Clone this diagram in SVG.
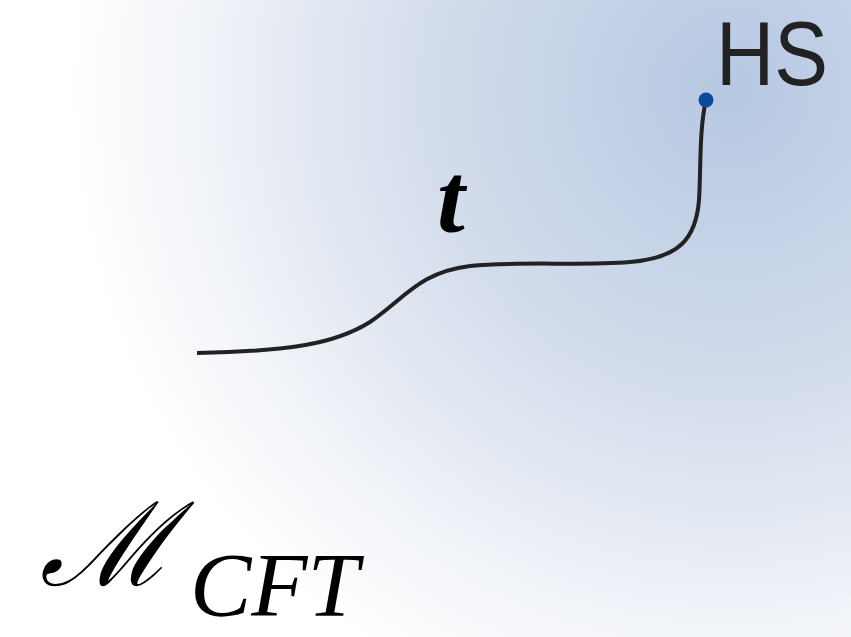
<svg xmlns="http://www.w3.org/2000/svg" width="851" height="637" viewBox="0 0 851 637">
<defs>
<radialGradient id="bg" gradientUnits="userSpaceOnUse" cx="730" cy="90" r="660">
<stop offset="0" stop-color="#b6c8e2"/>
<stop offset="0.45" stop-color="#d3dcec"/>
<stop offset="0.8" stop-color="#f0f3f8"/>
<stop offset="1" stop-color="#ffffff"/>
</radialGradient>
<style>
.curve{fill:none;stroke:#222;stroke-width:4;stroke-linecap:butt}
.serif{font-family:"Liberation Serif","DejaVu Serif",serif;fill:#000}
</style>
</defs>
<rect width="851" height="637" fill="#fff"/>
<rect width="851" height="637" fill="url(#bg)"/>
<g id="connectors">
<path class="curve" d="M197,353 C290,351 335,344 370,322 C405,298 420,272 470,266 C520,261 580,266 630,262 C680,258 696,238 699,200 C701,170 699,130 706,100"/>
</g>
<g id="hs">
<circle cx="706" cy="100" r="7.5" fill="#0a4a9c"/>
<text x="716" y="85" font-family="'Liberation Sans','DejaVu Sans',sans-serif" font-size="90" fill="#222" textLength="112" lengthAdjust="spacingAndGlyphs">HS</text>
</g>
<g id="t-label">
<text class="serif" x="437" y="232" font-size="100" font-style="italic" font-weight="bold">t</text>
</g>
<g id="m-cft">
<text class="serif" x="40" y="585" font-size="116" font-style="italic">ℳ</text>
<text class="serif" x="190" y="616" font-size="92" font-style="italic">CFT</text>
</g>
</svg>
